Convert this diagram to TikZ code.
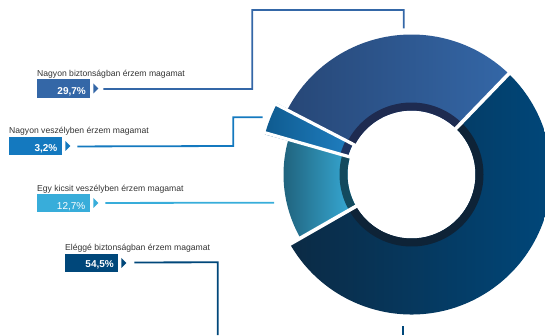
\documentclass[tikz,border=0pt]{standalone}
\usepackage{fontspec}
\setmainfont{Liberation Sans}
\usetikzlibrary{calc}
\definecolor{cA}{HTML}{3467A7}
\definecolor{cB}{HTML}{1479BF}
\definecolor{cC}{HTML}{38ADDA}
\definecolor{cD}{HTML}{00477A}
\definecolor{txt}{HTML}{333333}
\definecolor{rimA}{HTML}{1E2B50}
\definecolor{rimB}{HTML}{1E3461}
\definecolor{rimC}{HTML}{134A5E}
\definecolor{rimD}{HTML}{0E2337}
\begin{document}
\begin{tikzpicture}[x=1pt,y=1pt,
  lbl/.style={anchor=base west,inner sep=0pt,text=txt,font=\fontsize{8.6}{10}\selectfont},
  valbox/.style={anchor=north west,inner sep=0pt,minimum width=53pt,minimum height=18.5pt},
  val/.style={anchor=base east,inner sep=0pt,text=white,font=\fontsize{10}{12}\selectfont\bfseries},
  conn/.style={line width=1.8pt},
  gap/.style={draw=white,line width=3.6pt}]
\useasboundingbox (0,0) rectangle (545,335);
\clip (0,0) rectangle (545,335);

% ---------- donut ----------
\begin{scope}[shift={(411.5,160.5)}]
  % 29.7 %
  \shade[left color=rimA!40!cA!90!black, middle color=cA!92!black, right color=cA]
    (46:140pt) arc[start angle=46,end angle=152.6,radius=140pt]
    -- (152.6:64pt) arc[start angle=152.6,end angle=46,radius=64pt] -- cycle;
  \fill[rimA] (46:72pt) arc[start angle=46,end angle=152.6,radius=72pt]
    -- (152.6:64pt) arc[start angle=152.6,end angle=46,radius=64pt] -- cycle;
  % 54.5 %
  \shade[left color=rimD!80!cD, middle color=cD!85!black, right color=cD]
    (-150.2:140pt) arc[start angle=-150.2,end angle=46,radius=140pt]
    -- (46:64pt) arc[start angle=46,end angle=-150.2,radius=64pt] -- cycle;
  \fill[rimD] (-150.2:72pt) arc[start angle=-150.2,end angle=46,radius=72pt]
    -- (46:64pt) arc[start angle=46,end angle=-150.2,radius=64pt] -- cycle;
  % 12.7 %
  \shade[left color=cC!55!black, middle color=cC!95!black, right color=cC]
    (164.1:128pt) arc[start angle=164.1,end angle=209.8,radius=128pt]
    -- (209.8:64pt) arc[start angle=209.8,end angle=164.1,radius=64pt] -- cycle;
  \fill[rimC] (164.1:72pt) arc[start angle=164.1,end angle=209.8,radius=72pt]
    -- (209.8:64pt) arc[start angle=209.8,end angle=164.1,radius=64pt] -- cycle;
  % 3.2 %
  \begin{scope}[shift={(158.35:2pt)}]
  \shade[left color=cB!75!black, middle color=cB!97!black, right color=cB!95!white]
    (152.0:150pt) arc[start angle=152.0,end angle=164.8,radius=150pt]
    -- (164.8:64pt) arc[start angle=164.8,end angle=152.0,radius=64pt] -- cycle;
  \fill[rimB] (152.0:72pt) arc[start angle=152.0,end angle=164.8,radius=72pt]
    -- (164.8:64pt) arc[start angle=164.8,end angle=152.0,radius=64pt] -- cycle;
  \end{scope}
  % white gaps
  \draw[gap] (46:55pt) -- (46:160pt);
  \draw[gap] (209.8:55pt) -- (209.8:160pt);
  \draw[gap,line width=3.2pt] (164.1:55pt) -- (164.1:160pt);
  \draw[gap,line width=3.2pt] (152.6:55pt) -- (152.6:160pt);
\end{scope}

% ---------- labels ----------
\node[lbl] (t1) at (37,258.5) {Nagyon biztonságban érzem magamat};
\node[valbox,fill=cA] (b1) at (37,256) {};
\node[val] (v1) at (86,240.7) {29,7\%};
\fill[cA] ($(b1.east)+(3,5)$) -- ++(5,-5) -- ++(-5,-5) -- cycle;

\node[lbl] (t2) at (9,201) {Nagyon veszélyben érzem magamat};
\node[valbox,fill=cB] (b2) at (9,198.5) {};
\node[val] (v2) at (57.5,183.2) {3,2\%};
\fill[cB] ($(b2.east)+(3,5)$) -- ++(5,-5) -- ++(-5,-5) -- cycle;

\node[lbl] (t3) at (37,144) {Egy kicsit veszélyben érzem magamat};
\node[valbox,fill=cC] (b3) at (37,141.5) {};
\node[val,font=\fontsize{10}{12}\selectfont] (v3) at (85.5,126) {12,7\%};
\fill[cC] ($(b3.east)+(3,5)$) -- ++(5,-5) -- ++(-5,-5) -- cycle;

\node[lbl] (t4) at (65,84.5) {Eléggé biztonságban érzem magamat};
\node[valbox,fill=cD] (b4) at (65,81.5) {};
\node[val] (v4) at (114,67.3) {54,5\%};
\fill[cD] ($(b4.east)+(3,5)$) -- ++(5,-5) -- ++(-5,-5) -- cycle;

% ---------- connectors ----------
\coordinate (s1) at ($(b1.east)+(13,-0.5)$);
\coordinate (e1) at (403.7,306.7);
\draw[conn,cA] (s1) -- (252.3,246) -- (252.3,325) -- (403.7,325) -- (e1);

\coordinate (s2) at ($(b2.east)+(15,-0.5)$);
\coordinate (e2) at (262.7,217.7);
\draw[conn,cB] (s2) -- (233.3,189) -- (233.3,217.7) -- (e2);

\coordinate (s3) at ($(b3.east)+(15,0)$);
\coordinate (e3) at (274,132.3);
\draw[conn,cC] (s3) -- (e3);

\coordinate (s4) at ($(b4.east)+(16,0.5)$);
\coordinate (e4) at (217.7,0);
\draw[conn,cD] (s4) -- (217.7,72.7) -- (e4);

\coordinate (s5) at (403.3,9);
\coordinate (e5) at (403.3,0);
\draw[conn,cD] (s5) -- (e5);
\end{tikzpicture}
\end{document}
